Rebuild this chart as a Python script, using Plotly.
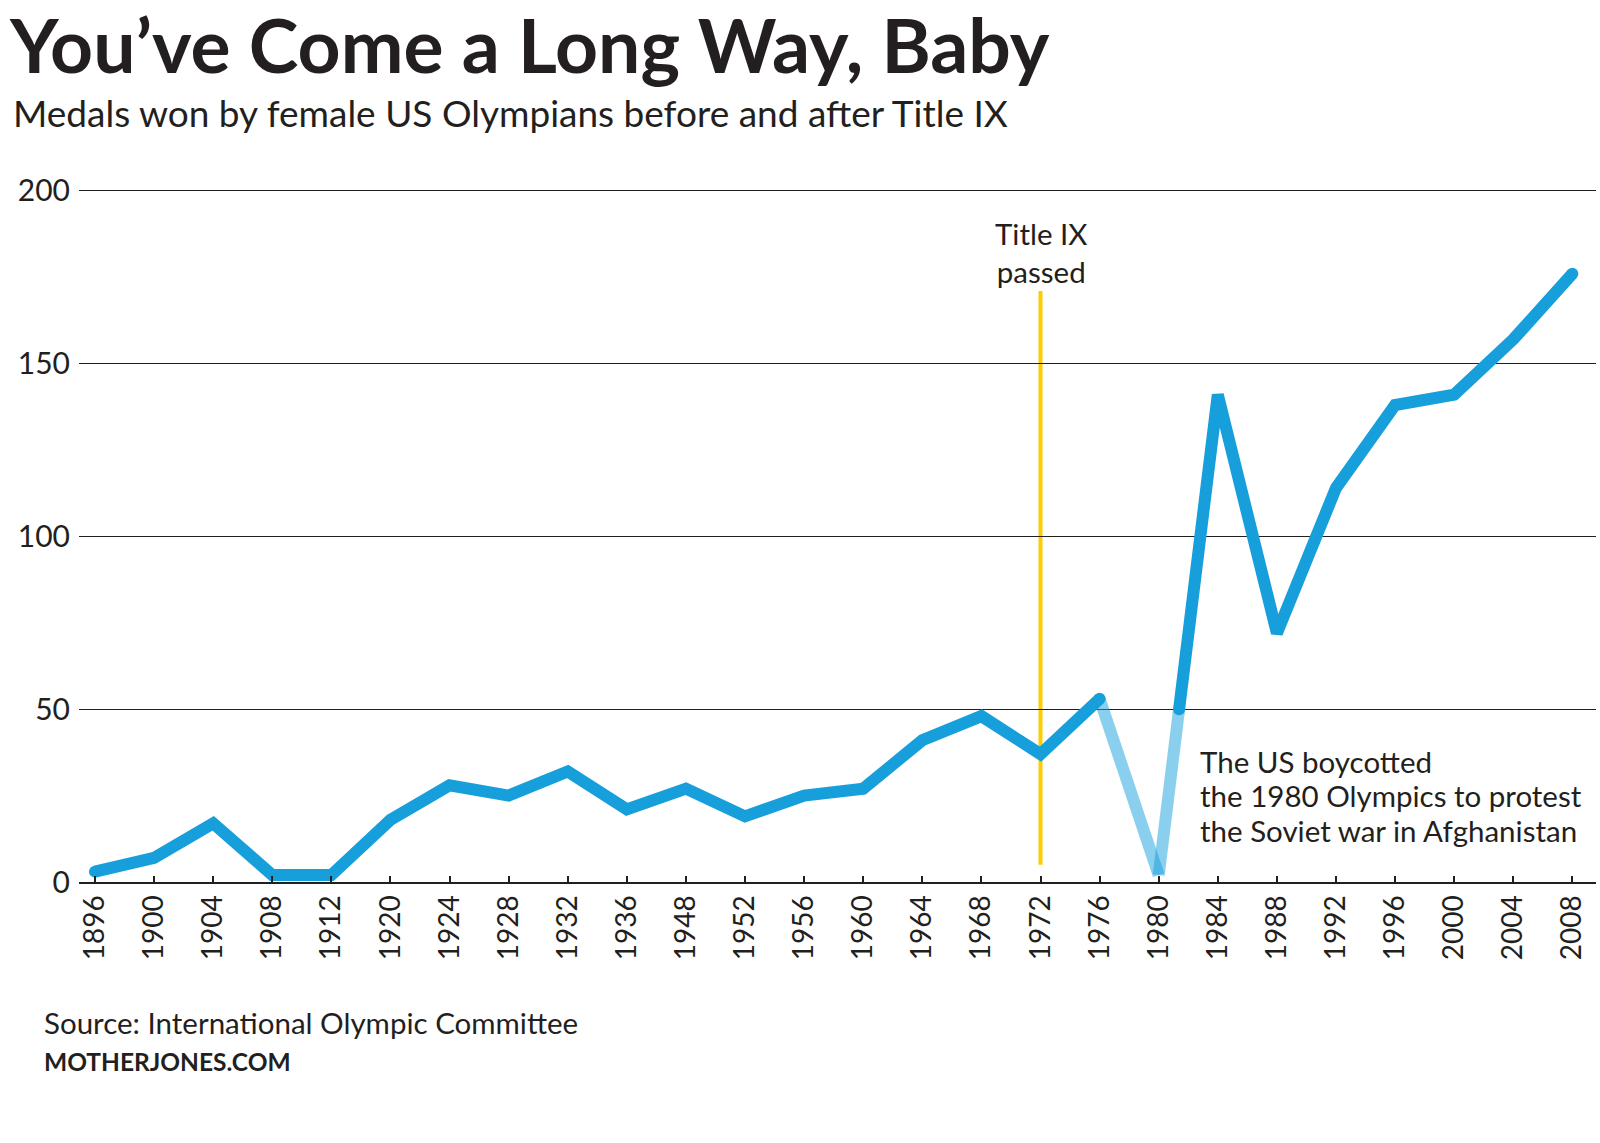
import plotly.graph_objects as go

# Olympic years (1916, 1940, 1944 not held)
years = ["1896", "1900", "1904", "1908", "1912", "1920", "1924", "1928", "1932",
         "1936", "1948", "1952", "1956", "1960", "1964", "1968", "1972", "1976",
         "1980", "1984", "1988", "1992", "1996", "2000", "2004", "2008"]
medals = [3, 7, 17, 2, 2, 18, 28, 25, 32, 21, 27, 19, 25, 27, 41, 48, 37, 53,
          2, 141, 72, 114, 138, 141, 157, 176]
y_ticks = [0, 50, 100, 150, 200]

title_ix_year = "1972"
boycott_year = "1980"
fade_level = 50  # line is faded below this level around the boycott
boycott_note = ["The US boycotted",
                "the 1980 Olympics to protest",
                "the Soviet war in Afghanistan"]

BLUE = "#169fdb"
FADED = "rgba(22,159,219,0.5)"
INK = "#231f20"
FONT = "Lato"
LW = 12

idx = list(range(len(years)))
b = years.index(boycott_year)
# where the line climbing out of 1980 crosses the fade level
x_cross = b + (fade_level - medals[b]) / (medals[b + 1] - medals[b])

fig = go.Figure()

fig.add_trace(go.Scatter(x=idx[:b], y=medals[:b], mode="lines",
                         line=dict(color=BLUE, width=LW)))
fig.add_trace(go.Scatter(x=idx[b - 1:b + 1], y=medals[b - 1:b + 1], mode="lines",
                         line=dict(color=FADED, width=LW)))
fig.add_trace(go.Scatter(x=[b, x_cross], y=[medals[b], fade_level], mode="lines",
                         line=dict(color=FADED, width=LW)))
fig.add_trace(go.Scatter(x=[x_cross] + idx[b + 1:], y=[fade_level] + medals[b + 1:],
                         mode="lines", line=dict(color=BLUE, width=LW)))
# round ends
fig.add_trace(go.Scatter(x=[idx[0], idx[b - 1], x_cross, idx[-1]],
                         y=[medals[0], medals[b - 1], fade_level, medals[-1]],
                         mode="markers", marker=dict(color=BLUE, size=LW)))

t = years.index(title_ix_year)
fig.add_shape(type="line", x0=t, x1=t, y0=5, y1=171, xref="x", yref="y",
              line=dict(color="#ffcc00", width=4), layer="below")

fig.add_annotation(x=t, y=182, xref="x", yref="y", text="Title IX<br>passed",
                   showarrow=False, font=dict(family=FONT, size=29.5, color=INK),
                   xanchor="center", yanchor="middle")
for i, line in enumerate(boycott_note):
    fig.add_annotation(x=0.7377, y=35.0 - i * 10.1, xref="paper", yref="y",
                       text=line, showarrow=False, align="left",
                       font=dict(family=FONT, size=29.5, color=INK),
                       xanchor="left", yanchor="middle")

fig.add_annotation(x=-0.0475, y=1.2075, xref="paper", yref="paper",
                   text="<b>You’ve Come a Long Way, Baby</b>", showarrow=False,
                   font=dict(family=FONT, size=75, color=INK),
                   xanchor="left", yanchor="middle")
fig.add_annotation(x=-0.045, y=1.1095, xref="paper", yref="paper",
                   text="Medals won by female US Olympians before and after Title IX",
                   showarrow=False, font=dict(family=FONT, size=37, color=INK),
                   xanchor="left", yanchor="middle")
fig.add_annotation(x=-0.0245, y=-0.203, xref="paper", yref="paper",
                   text="Source: International Olympic Committee",
                   showarrow=False, font=dict(family=FONT, size=29.5, color=INK),
                   xanchor="left", yanchor="middle")
fig.add_annotation(x=-0.0245, y=-0.258, xref="paper", yref="paper",
                   text="<b>MOTHERJONES.COM</b>",
                   showarrow=False, font=dict(family=FONT, size=24.5, color=INK),
                   xanchor="left", yanchor="middle")

fig.update_layout(
    width=1600, height=1143,
    margin=dict(l=79, r=4, t=188, b=261),
    paper_bgcolor="white", plot_bgcolor="white",
    showlegend=False,
    font=dict(family=FONT, color=INK),
)
fig.update_xaxes(
    range=[-0.27, 25.4], tickmode="array", tickvals=idx, ticktext=years,
    tickangle=-90, tickfont=dict(size=28, color=INK),
    showgrid=False, zeroline=False,
    showline=True, linecolor=INK, linewidth=2,
    ticks="inside", ticklen=6, tickcolor=INK, tickwidth=1.5,
    ticklabelstandoff=0,
)
fig.update_yaxes(
    range=[0, 200.8], tickmode="array", tickvals=y_ticks,
    tickfont=dict(size=30, color=INK),
    showgrid=True, gridcolor=INK, gridwidth=1.3,
    zeroline=False, showline=False, ticks="",
    ticklabelstandoff=8,
)

# page body has a default margin; drop it so the figure sits at the corner
fig.write_html("out.html", config={"displayModeBar": False},
               post_script="document.body.style.margin='0';")
